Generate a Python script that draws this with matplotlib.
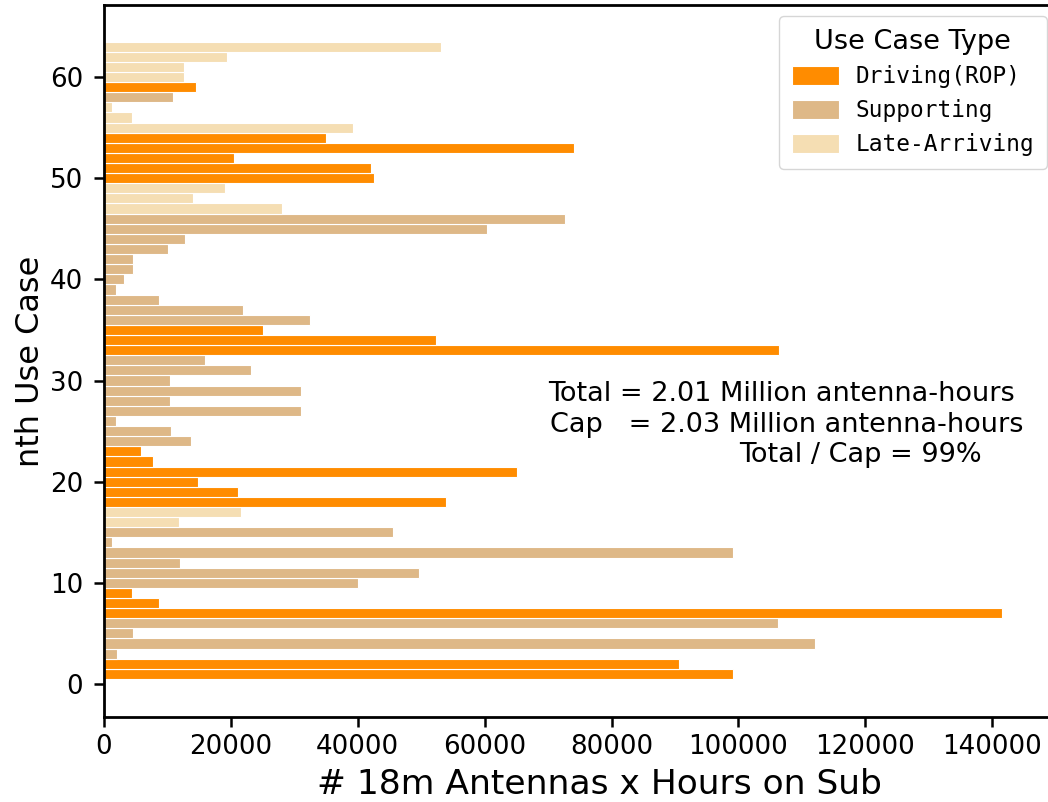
import matplotlib
matplotlib.use("Agg")
import matplotlib.pyplot as plt
from matplotlib.patches import Patch

# ---- data ----
use_case = list(range(1, 64))
hours = [99080, 90620, 2050, 112100, 4620, 106220, 141570, 8720, 4460, 40030,
         49590, 11930, 99080, 1210, 45500, 11770, 21590, 53850, 21120, 14760,
         65040, 7670, 5830, 13710, 10560, 1890, 31100, 10400, 31100, 10400,
         23110, 15970, 106380, 52320, 25060, 32470, 21910, 8720, 1890, 3100,
         4620, 4620, 10090, 12820, 60310, 72600, 28100, 14030, 19020, 42600,
         42030, 20490, 74070, 34930, 39300, 4360, 1260, 10820, 14500, 12660,
         12660, 19330, 53060]
case_type = ['D', 'D', 'S', 'S', 'S', 'S', 'D', 'D', 'D', 'S',
             'S', 'S', 'S', 'S', 'S', 'L', 'L', 'D', 'D', 'D',
             'D', 'D', 'D', 'S', 'S', 'S', 'S', 'S', 'S', 'S',
             'S', 'S', 'D', 'D', 'D', 'S', 'S', 'S', 'S', 'S',
             'S', 'S', 'S', 'S', 'S', 'S', 'L', 'L', 'L', 'D',
             'D', 'D', 'D', 'D', 'L', 'L', 'L', 'S', 'D', 'L',
             'L', 'L', 'L']
type_keys = ['D', 'S', 'L']
type_labels = ['Driving(ROP)', 'Supporting', 'Late-Arriving']
type_colors = ['darkorange', 'burlywood', 'wheat']
x_ticks = [0, 20000, 40000, 60000, 80000, 100000, 120000, 140000]
y_ticks = [0, 10, 20, 30, 40, 50, 60]
note_lines = ["Total = 2.01 Million antenna-hours",
              "Cap   = 2.03 Million antenna-hours",
              "Total / Cap = 99%"]

cmap = dict(zip(type_keys, type_colors))

W, H = 1048, 802
fig = plt.figure(figsize=(W / 100, H / 100), dpi=100)
ax_left, ax_right, ax_top, ax_bot = 104, 1052, 5, 717
ax = fig.add_axes([ax_left / W, 1 - ax_bot / H, (ax_right - ax_left) / W,
                   (ax_bot - ax_top) / H])

ax.barh(use_case, hours, height=1.0,
        color=[cmap[t] for t in case_type],
        edgecolor='white', linewidth=0.8)

px_per_unit_x = 126.9 / 20000
ax.set_xlim(0, (ax_right - ax_left) / px_per_unit_x)
ax.set_ylim(-3.26, 67.12)
ax.set_xticks(x_ticks)
ax.set_xticklabels([str(v) for v in x_ticks])
ax.set_yticks(y_ticks)

ax.spines['right'].set_visible(False)
for s in ['left', 'bottom', 'top']:
    ax.spines[s].set_linewidth(2.0)
ax.tick_params(axis='both', which='major', labelsize=18.8, length=7,
               width=1.8)
ax.tick_params(axis='x', pad=5)
ax.tick_params(axis='y', pad=8)

ax.set_xlabel("# 18m Antennas x Hours on Sub", fontsize=24.8, labelpad=8)
ax.xaxis.set_label_coords((599.5 - ax_left) / (ax_right - ax_left), -0.072)
ax.set_ylabel("nth Use Case", fontsize=23)
ax.yaxis.set_label_coords((46 - ax_left) / (ax_right - ax_left), 0.5)

def fx(px):
    return (px - ax_left) / (ax_right - ax_left)

def fy(py):
    return (ax_bot - py) / (ax_bot - ax_top)

ax.text(fx(548), fy(401), note_lines[0], transform=ax.transAxes,
        fontsize=19.5, ha='left', va='baseline')
ax.text(fx(550), fy(431.7), note_lines[1], transform=ax.transAxes,
        fontsize=19.5, ha='left', va='baseline')
ax.text(fx(739), fy(461.7), note_lines[2], transform=ax.transAxes,
        fontsize=19.5, ha='left', va='baseline')

handles = [Patch(facecolor=c, edgecolor='white', linewidth=0.8, label=l)
           for c, l in zip(type_colors, type_labels)]
leg = ax.legend(handles=handles, title="Use Case Type",
                loc='upper right',
                bbox_to_anchor=(1046.7 / W, 1 - 16 / H),
                bbox_transform=fig.transFigure, borderaxespad=0,
                prop={'family': 'DejaVu Sans Mono', 'size': 16.4},
                title_fontsize=19.5, handlelength=2.1, handleheight=0.9,
                handletextpad=0.7, labelspacing=0.48, borderpad=0.55,
                fancybox=True)

fig.savefig("out.png", dpi=100)
